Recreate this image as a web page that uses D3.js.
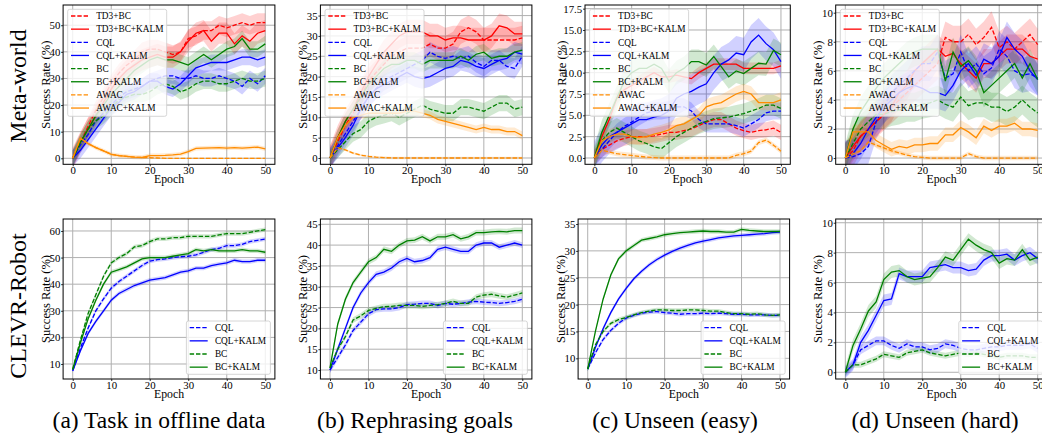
<!DOCTYPE html>
<html><head><meta charset="utf-8">
<script src="https://cdn.jsdelivr.net/npm/d3@7"></script>
<style>
body{margin:0;background:#fff}
svg{display:block}
text{font-family:"Liberation Serif","DejaVu Serif",serif;fill:#000}
</style>
</head><body>
<svg id="c" width="1042" height="440"></svg>
<script>
// ---------------- DATA ----------------
const epochs=[0,2,4,6,8,10,12,14,16,18,20,22,24,26,28,30,32,34,36,38,40,42,44,46,48,50];
const mwNames=["TD3+BC","TD3+BC+KALM","CQL","CQL+KALM","BC","BC+KALM","AWAC","AWAC+KALM"];
const clNames=["CQL","CQL+KALM","BC","BC+KALM"];
const xTicks=[0,10,20,30,40,50];
const yTicks_mwA=[0,10,20,30,40,50];
const yTicks_mwB=[0,5,10,15,20,25,30,35];
const yTicks_mwC=[0,2.5,5,7.5,10,12.5,15,17.5];
const yTicks_mwD=[0,2,4,6,8,10];
const yTicks_clA=[10,20,30,40,50,60];
const yTicks_clB=[10,15,20,25,30,35,40,45];
const yTicks_clC=[10,15,20,25,30,35];
const yTicks_clD=[0,2,4,6,8,10];
const captions=["(a) Task in offline data","(b) Rephrasing goals","(c) Unseen (easy)","(d) Unseen (hard)"];
const rowLabels=["Meta-world","CLEVR-Robot"];
const xLabel="Epoch", yLabel="Success Rate (%)";

// Meta-world (a)
const mwA_TD3BC  =[0,6,12,18,23,28,32,35,37,40,41,41,40,39,40,45,46,48,48,50,49,50,51,50,51,51];
const mwA_TD3BCK =[0,6,11,16,21,26,30,33,35,37,38,39,38,38,40,44,47,48,44,47,47,43,46,44,47,48];
const mwA_CQL    =[0,5,9,14,17,20,23,25,26,27,29,30,31,31,30,30,31,30,30,31,30,29,27,30,28,31];
const mwA_CQLK   =[0,3,7,11,15,19,21,24,25,27,29,29,27,26,28,31,34,35,36,36,36,37,38,38,37,38];
const mwA_BC     =[0,6,11,14,16,19,22,23,24,24,25,27,28,27,25,26,28,29,29,28,28,29,30,29,29,30];
const mwA_BCK    =[0,6,11,16,20,24,27,30,33,35,37,38,37,37,36,35,37,39,37,39,41,42,45,41,41,43];
const mwA_AWAC   =[0,7.5,5.5,4,2.8,1.5,1,0.7,0.4,0.3,0.2,0.1,0,0,0,0,0,0,0,0,0,0,0,0,0,0];
const mwA_AWACK  =[0,7.5,5.5,4,2.8,1.5,1,0.7,0.4,0.3,1,1,1.1,1.3,1.6,2.5,3.7,3.8,3.9,4,3.8,4,3.8,4,4.2,3.5];
const mwA_std    =[3.5,4,3,3,3,3,0.3,0.8];
// Meta-world (b)
const mwB_TD3BC  =[0,4,8,11,15,19,21,23,25,26,27,27,27,28,27,27,28,31,32,31,29,29,29,29,29,29.5];
const mwB_TD3BCK =[0,5,9,12,16,20,23,26,28,30,31,31,31,30,30,29,29.5,29.5,29,29,29,30,32.5,32,30.5,30.5];
const mwB_CQL    =[0,3,6,9,12,15,17,19,20,21,22,23,24,26,25,24.5,25,24.5,25,23.5,22.5,24,24,22.5,22,25];
const mwB_CQLK   =[0,2.5,5,8,12,15,17,18,19,20,21,20,19.5,20,21,22,22.5,24,23.5,22.5,22,23,24,24.5,26,25.5];
const mwB_BC     =[0,2,4,6,7,9,10,10.5,11,10,11,12,13,12,11.5,11,11,12.5,12.5,12,11.5,12.5,13.5,13.5,12,12.5];
const mwB_BCK    =[0,5,9,12,15,18,20,22,23,23,24,24,23,24,24,24,24,25,24,25.5,26,24.5,25,25,26,26.5];
const mwB_AWAC   =[0,2.5,2,1.2,0.7,0.4,0.2,0.1,0,0,0,0,0,0,0,0,0,0,0,0,0,0,0,0,0,0];
const mwB_AWACK  =[0,5,8,10,10.5,11,11,11,11,11,11.5,11.5,11,10.5,9.5,9,8.5,8,7.5,7,7.5,7,7,6.5,6.5,5.5];
const mwB_std    =[3,3,2.5,2.5,2,2,0.3,1];
// Meta-world (c)
const mwC_TD3BC  =[0,1,1.5,2,2.3,2.5,2.5,2.5,2.6,2.8,3,3,3.2,3.4,3.8,4.2,4.5,4.5,4,3.5,3.2,3,3.2,3.3,3.5,3];
const mwC_TD3BCK =[0,2.5,4.5,7,8,8.5,9,9.5,10,9.5,9.5,9.7,9.5,9.3,10,10.5,11,11,11,11,10.5,10.5,10.5,10.5,10.5,10.8];
const mwC_CQL    =[0,1,2,3,3.7,4.2,4.8,5.3,5.5,5.5,5.7,6,6,5.5,4.5,4,4,4,4,3.8,3.5,4,4.5,5.3,5.5,5.5];
const mwC_CQLK   =[0,1.5,2.5,3,3.5,4,4.5,4.5,4.8,5,5.5,7,7.5,7.8,8.3,8.7,10,11,11.5,12.3,12.1,13.6,14.4,13.4,12.7,11.3];
const mwC_BC     =[0,2,3,3.5,3,2.5,2,1.7,1.3,1.1,1.8,2.5,3,3.5,4,4.3,4.6,4.7,4.8,5,5.2,5.5,5.8,6.2,6.2,5.8];
const mwC_BCK    =[0,3,5,7,9,10,10.5,10.5,11,10.5,9,10,10.5,11.3,11.3,10.9,11.9,10.7,9.5,10.2,9.9,10.5,11.1,11,12.6,12.1];
const mwC_AWAC   =[0,0.9,0.7,0.5,0.4,0.3,0.2,0.1,0.05,0,0,0,0,0,0,0,0,0,0,0.3,0.5,0.8,1.8,2.1,1.5,0.8];
const mwC_AWACK  =[0,2,2.5,2.8,2.8,2.5,2.4,2.5,2.8,3,3.3,3.8,4,4.5,5,6,6.3,6.5,7,7.5,7.8,7.5,6.5,6.5,6.5,6.8];
const mwC_std    =[0.9,0.7,1,2,1.2,1.4,0.3,0.9];
// Meta-world (d)
const mwD_TD3BC  =[0,0.5,1.5,2,2.5,3,3.5,4,4.5,5,5.5,6,6.5,8.3,8,8,8.5,7.8,8.3,9,7.6,8,7.5,8,8.5,7.8];
const mwD_TD3BCK =[0,0.8,1.5,2,2.5,3,3.5,4.5,5,6,6.5,7,7.5,7,7.2,6.5,6,5.5,6.5,6.5,7,7.5,7.5,7.5,7,6.8];
const mwD_CQL    =[0,0.1,0.3,0.8,2.5,3.5,4.5,5,5.5,6,6.5,6.5,7.3,5.5,5.8,7.3,6,6.5,5.8,6.2,7.5,7,6,5.7,5.8,5.5];
const mwD_CQLK   =[0,0.3,1,2,2.8,3.5,4,4.5,4.8,5,4.8,4.5,4.5,4.3,5,6,6.5,5.7,6.8,6.5,7,8.3,7.5,7,6,5.4];
const mwD_BC     =[0,1,2,2.5,3,3,3.2,3.3,3.5,3.5,3.7,3.8,4,3.7,3.5,4.2,3.6,3.8,3.8,3.5,3.5,3.2,3.5,4,3.5,3.1];
const mwD_BCK    =[0,2,3.2,4,4.8,5.5,6,6.5,7,7.3,7.5,7.5,7.5,5.3,7.3,6.3,6.7,6,4.5,5,5.5,6,6.5,5.5,6.5,5.4];
const mwD_AWAC   =[0,0.3,0.5,1.1,0.9,0.7,0.5,0.35,0.2,0.1,0.05,0,0,0,0,0,0.3,0.1,0,0,0,0,0,0,0,0];
const mwD_AWACK  =[0,1.8,1.8,1.8,1.2,0.9,0.6,0.8,0.7,0.9,0.9,1,1,1.6,1.6,2.1,1.8,1.4,2.2,1.9,2.2,2.2,2.4,2,2,1.9];
const mwD_std    =[1.1,1,1.2,1.1,1,1,0.15,0.5];
// CLEVR-Robot (a)
const clA_CQL  =[7.5,16,23.5,30,34.5,38.5,41,43,45,47,48.7,49.2,49.5,50,50.3,50.5,51,52,53,53.5,54.5,54.5,55,56,56.5,57];
const clA_CQLK =[7.5,15,21.5,26,30,34,36.5,38,39.5,40.5,41.5,42,42.5,43.5,44.5,45,46,46,47,47.5,48,49,48.5,48.5,49,49];
const clA_BC   =[8,19,29,36,43,48,50,51.5,54,54.5,56,57,57,57.5,57.5,58,58,58,58,58.5,59,59,59,59.5,60,60.5];
const clA_BCK  =[8,18,27,34,40,44.5,45.5,46.5,48,49.5,50,50,50,50.5,51,51.5,53,52.5,53,52.5,52.5,52.5,53,52.5,52.5,52];
const clA_std  =[0.8,0.8,0.8,0.8];
// CLEVR-Robot (b)
const clB_CQL  =[10,13,16,19.5,21.5,23.5,24.5,24.7,24.7,25,25.7,25.8,26,26,25.5,26,25.8,26,26.3,26.5,26.3,26.2,26,26.2,26.5,27];
const clB_CQLK =[10,15,20,25,28.5,31,33,33.5,34.5,36,36.8,36,36.3,37,39,39.5,39,38.5,38.5,40,40.5,40.5,39.5,40,40.5,40];
const clB_BC   =[10.5,15,18,22,23,24.3,24.8,25.2,25.3,25.5,25.5,25.5,25.3,25.5,25.7,26,26.5,26,26,27.5,28,28.2,27.8,27.5,28,28.5];
const clB_BCK  =[10.5,21,27,31,33.5,36,37,39,38.5,40,41,41.2,42,41,42,42,42.5,41.5,42,43,43,43.2,43.3,43.2,43.5,43.5];
const clB_std  =[0.7,0.7,0.7,0.7];
// CLEVR-Robot (c)
const clC_CQL  =[8,11,13.5,15.2,16.5,17.5,18,18.4,18.6,18.7,18.5,18.4,18.2,18.3,18.3,18.4,18.3,18.4,18.3,18.2,18.2,18.1,18.1,18.1,18,18];
const clC_CQLK =[8,12,15.5,18.5,21,23,24.8,26.2,27.4,28.4,29.2,29.9,30.5,31,31.5,31.8,32.1,32.4,32.6,32.8,32.9,33,33.1,33.2,33.4,33.5];
const clC_BC   =[8,12.5,15,16.5,17.2,17.6,18.1,18.5,18.8,19,19,18.9,18.9,19,19,18.9,18.8,18.8,18.5,18.3,18.3,18.2,18.3,18.1,18,18.1];
const clC_BCK  =[8,15,21,25.5,28.5,30,31,32,32.3,32.6,33,33.2,33.4,33.5,33.6,33.7,33.6,33.6,33.5,33.5,34,33.8,33.7,33.6,33.6,33.6];
const clC_std  =[0.4,0.4,0.4,0.4];
// CLEVR-Robot (d)
const clD_CQL  =[0,0.5,1.5,1.8,2.1,2.1,1.8,1.6,1.9,1.7,1.7,1.5,1.6,1.9,1.8,1.6,1.5,1.5,1.6,1.7,1.7,1.8,1.8,1.8,1.9,1.6];
const clD_CQLK =[0,0.5,2,2.8,3.8,4.8,4.9,6.6,6.4,6.4,6.4,7,7.1,7.2,7,7,6.8,6.9,7.5,7.8,7.8,7.9,7.5,7.8,8,7.6];
const clD_BC   =[0,0.5,0.5,0.7,0.9,1.2,1.1,1.0,1.3,1.4,1.5,1.3,1.2,1.1,1.2,1.3,1.2,1.3,1.2,1.1,1.0,1.1,1.1,1.1,1.0,1.0];
const clD_BCK  =[0,1.8,2.9,4.1,4.7,6.2,6.7,6.8,6.4,6.2,6.3,6.4,7,7.7,7.5,8.2,8.9,8.5,8.2,8,7.3,7.6,7.5,8.2,7.5,7.7];
const clD_std  =[0.3,0.4,0.2,0.4];

// ---------------- LAYOUT / STYLE ----------------
const colorOf=n=>n.startsWith("TD3")?"#ff0000":n.startsWith("CQL")?"#0000ff":n.startsWith("BC")?"#008000":"#ff8c00";
const dashed=n=>!n.includes("KALM");
const T0=5,B0=164.3,T1=219,B1=379;
const panels=[
 {l:63.1,r:274.9,t:T0,b:B0,y:[-2.26,57.6],ticks:yTicks_mwA,fmt:d3.format("d"),names:mwNames,data:[mwA_TD3BC,mwA_TD3BCK,mwA_CQL,mwA_CQLK,mwA_BC,mwA_BCK,mwA_AWAC,mwA_AWACK],std:mwA_std,lo:17},
 {l:320.4,r:531.9,t:T0,b:B0,y:[-1.55,37.6],ticks:yTicks_mwB,fmt:d3.format("d"),names:mwNames,data:[mwB_TD3BC,mwB_TD3BCK,mwB_CQL,mwB_CQLK,mwB_BC,mwB_BCK,mwB_AWAC,mwB_AWACK],std:mwB_std,lo:17},
 {l:585,r:790.3,t:T0,b:B0,y:[-0.74,17.93],ticks:yTicks_mwC,fmt:d3.format(".1f"),names:mwNames,data:[mwC_TD3BC,mwC_TD3BCK,mwC_CQL,mwC_CQLK,mwC_BC,mwC_BCK,mwC_AWAC,mwC_AWACK],std:mwC_std,lo:23.5},
 {l:835.7,r:1047.3,t:T0,b:B0,y:[-0.43,10.53],ticks:yTicks_mwD,fmt:d3.format("d"),names:mwNames,data:[mwD_TD3BC,mwD_TD3BCK,mwD_CQL,mwD_CQLK,mwD_BC,mwD_BCK,mwD_AWAC,mwD_AWACK],std:mwD_std,lo:17.4},
 {l:63.1,r:274.9,t:T1,b:B1,y:[4.36,64.5],ticks:yTicks_clA,fmt:d3.format("d"),names:clNames,data:[clA_CQL,clA_CQLK,clA_BC,clA_BCK],std:clA_std,lo:17},
 {l:320.4,r:531.9,t:T1,b:B1,y:[7.84,46.27],ticks:yTicks_clB,fmt:d3.format("d"),names:clNames,data:[clB_CQL,clB_CQLK,clB_BC,clB_BCK],std:clB_std,lo:17},
 {l:578.1,r:789.6,t:T1,b:B1,y:[6.15,35.93],ticks:yTicks_clC,fmt:d3.format("d"),names:clNames,data:[clC_CQL,clC_CQLK,clC_BC,clC_BCK],std:clC_std,lo:17},
 {l:835.7,r:1047.3,t:T1,b:B1,y:[-0.45,10.25],ticks:yTicks_clD,fmt:d3.format("d"),names:clNames,data:[clD_CQL,clD_CQLK,clD_BC,clD_BCK],std:clD_std,lo:17.4}
];

const svg=d3.select("#c");
const defs=svg.append("defs");

panels.forEach((p,pi)=>{
  const x=d3.scaleLinear().domain([-2.5,52.5]).range([p.l,p.r]);
  const y=d3.scaleLinear().domain(p.y).range([p.b,p.t]);
  const g=svg.append("g");
  const cid="clip"+pi;
  defs.append("clipPath").attr("id",cid).append("rect")
    .attr("x",p.l).attr("y",p.t).attr("width",p.r-p.l).attr("height",p.b-p.t);
  // grid
  const gg=g.append("g").attr("stroke","#b0b0b0").attr("stroke-width",1);
  xTicks.forEach(v=>gg.append("line").attr("x1",x(v)).attr("x2",x(v)).attr("y1",p.t).attr("y2",p.b));
  p.ticks.forEach(v=>gg.append("line").attr("x1",p.l).attr("x2",p.r).attr("y1",y(v)).attr("y2",y(v)));
  // bands + lines
  const pg=g.append("g").attr("clip-path",`url(#${cid})`);
  const area=d3.area().x((d,i)=>x(epochs[i]));
  p.data.forEach((s,si)=>{
    const sd=p.std[si];
    pg.append("path").datum(s)
      .attr("d",area.y0(d=>y(d-sd)).y1(d=>y(d+sd)))
      .attr("fill",colorOf(p.names[si])).attr("fill-opacity",0.18).attr("stroke","none");
  });
  const line=d3.line().x((d,i)=>x(epochs[i])).y(d=>y(d));
  p.data.forEach((s,si)=>{
    const n=p.names[si];
    pg.append("path").datum(s).attr("d",line).attr("fill","none")
      .attr("stroke",colorOf(n)).attr("stroke-width",1.3)
      .attr("stroke-dasharray",dashed(n)?"4.4,1.9":null);
  });
  // axes with d3
  const xa=d3.axisBottom(x).tickValues(xTicks).tickSize(2).tickPadding(0.5).tickFormat(d3.format("d"));
  const ya=d3.axisLeft(y).tickValues(p.ticks).tickSize(2).tickPadding(0.8).tickFormat(p.fmt);
  const gx=g.append("g").attr("transform",`translate(0,${p.b})`).call(xa);
  const gy=g.append("g").attr("transform",`translate(${p.l},0)`).call(ya);
  [gx,gy].forEach(a=>{
    a.attr("font-family",null);
    a.select(".domain").remove();
    a.selectAll("text").attr("font-size",10.8).attr("fill","#000");
    a.selectAll("line").attr("stroke","#000").attr("stroke-width",0.8);
  });
  // frame
  g.append("rect").attr("x",p.l).attr("y",p.t).attr("width",p.r-p.l).attr("height",p.b-p.t)
    .attr("fill","none").attr("stroke","#000").attr("stroke-width",1);
  // labels
  g.append("text").attr("x",(p.l+p.r)/2).attr("y",p.b+18.6).attr("text-anchor","middle")
    .attr("font-size",11.8).text(xLabel);
  g.append("text").attr("transform",`translate(${p.l-p.lo},${(p.t+p.b)/2}) rotate(-90)`)
    .attr("text-anchor","middle").attr("dominant-baseline","central").attr("font-size",12.6).text(yLabel);
  // legend
  const lg=g.append("g");
  const rowH=13.15;
  let bx,by,bw,bh;
  if(p.names.length===8){bw=99;bh=107;bx=p.l+4.6;by=p.t+4.3;}
  else{bw=84;bh=53.3;bx=p.r-4.5-bw;by=p.b-4.7-bh;}
  lg.append("rect").attr("x",bx).attr("y",by).attr("width",bw).attr("height",bh).attr("rx",2)
    .attr("fill","#fff").attr("fill-opacity",0.8).attr("stroke","#cccccc").attr("stroke-width",0.8);
  p.names.forEach((n,i)=>{
    const cy=by+6.7+i*rowH;
    lg.append("line").attr("x1",bx+3.3).attr("x2",bx+21.3).attr("y1",cy).attr("y2",cy)
      .attr("stroke",colorOf(n)).attr("stroke-width",1.3).attr("stroke-dasharray",dashed(n)?"4.4,1.9":null);
    lg.append("text").attr("x",bx+28.5).attr("y",cy+3.2).attr("font-size",9.3).text(n);
  });
});

// row labels
[[18,86],[18,306]].forEach((pos,i)=>{
  svg.append("text").attr("transform",`translate(${pos[0]},${pos[1]}) rotate(-90)`)
    .attr("text-anchor","middle").attr("dominant-baseline","central").attr("font-size",24).text(rowLabels[i]);
});
// captions
[159,415,675,935].forEach((cx,i)=>{
  svg.append("text").attr("x",cx).attr("y",428).attr("text-anchor","middle").attr("font-size",23.5).text(captions[i]);
});
</script>
</body></html>
